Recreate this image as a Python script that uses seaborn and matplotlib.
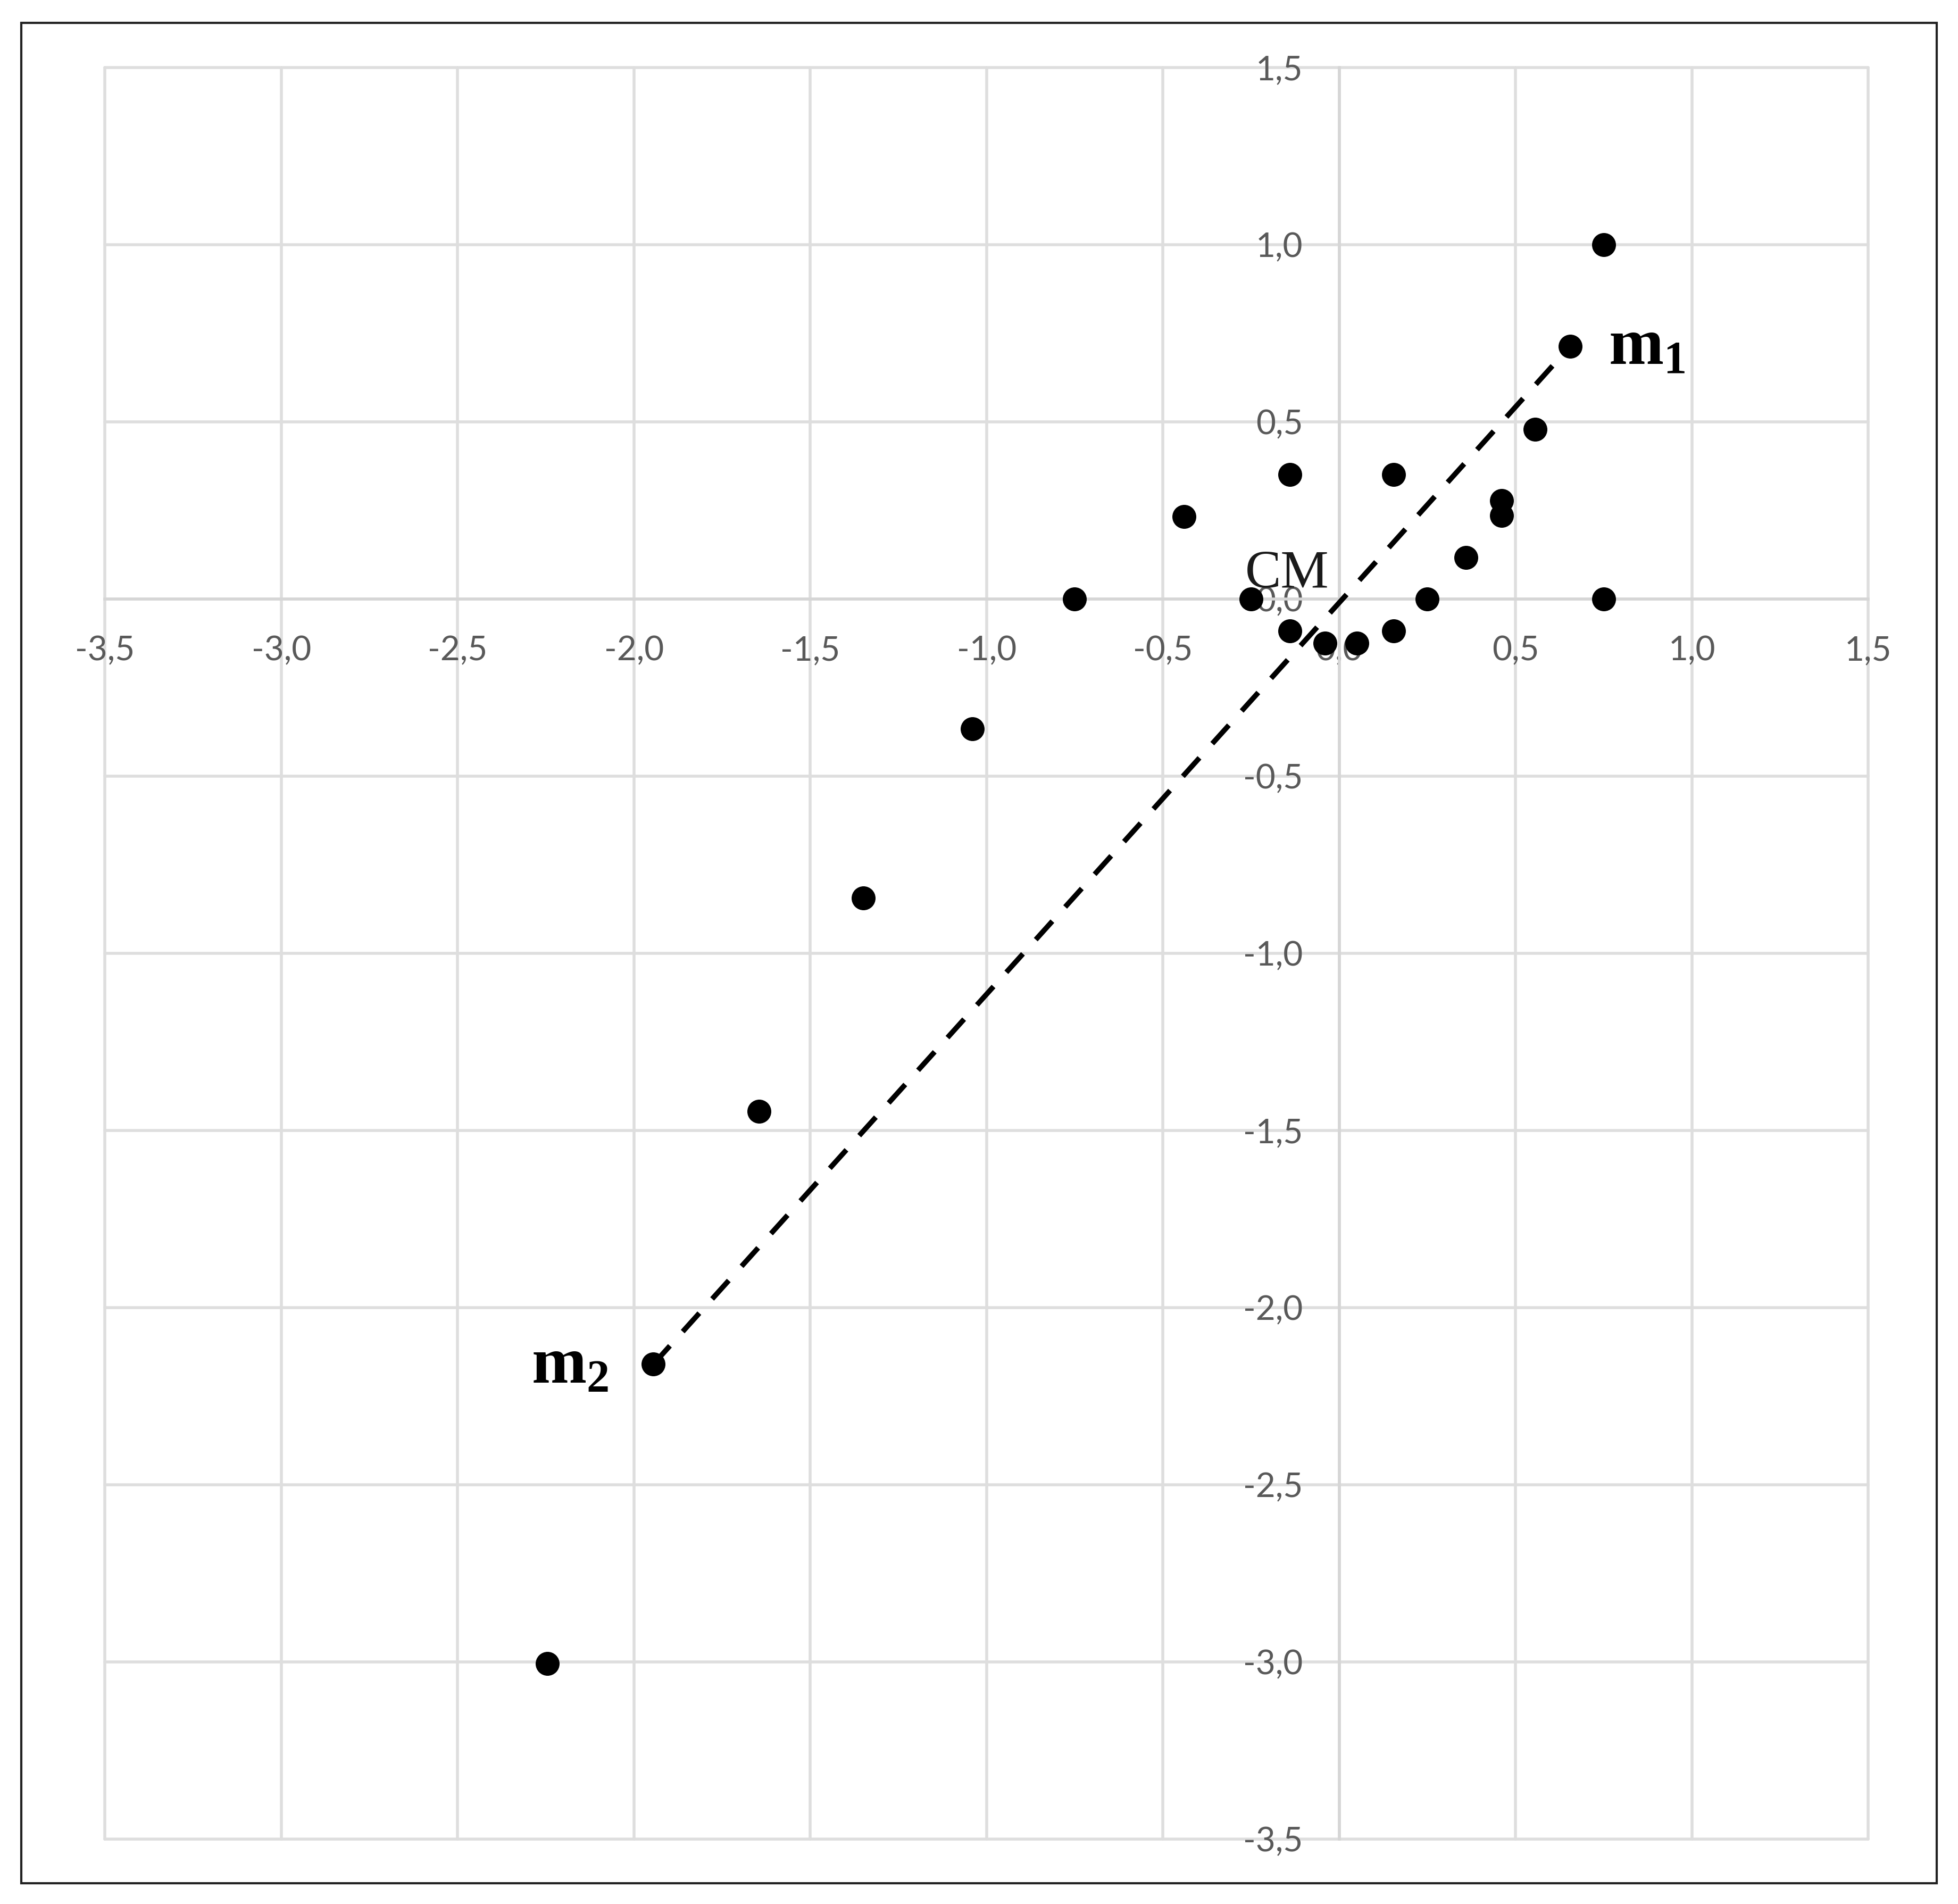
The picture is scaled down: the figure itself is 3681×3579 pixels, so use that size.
import matplotlib
matplotlib.use("Agg")
import matplotlib.pyplot as plt
import seaborn as sns
from matplotlib.patches import Rectangle

# scatter points
x_vals = [0.75, 0.655, 0.555, -0.14, 0.155, -0.44, 0.46, 0.46, 0.36,
          -0.75, -0.25, 0.25, 0.75, -0.14, -0.04, 0.05, 0.155,
          -1.04, -1.35, -1.645, -1.945, -2.245]
y_vals = [1.0, 0.713, 0.478, 0.351, 0.351, 0.233, 0.278, 0.235, 0.117,
          0.0, 0.0, 0.0, 0.0, -0.09, -0.125, -0.125, -0.09,
          -0.366, -0.844, -1.446, -2.16, -3.005]

# dashed segment m2 -> m1
line_x = [-1.945, 0.655]
line_y = [-2.16, 0.713]

point_labels = ["$\\mathbf{m_1}$", "$\\mathbf{m_2}$"]
center_label = "CM"

tick_values = [-3.5, -3.0, -2.5, -2.0, -1.5, -1.0, -0.5, 0.0, 0.5, 1.0, 1.5]
tick_labels = [f"{v:.1f}".replace(".", ",") for v in tick_values]

sns.set_theme(style="whitegrid")
plt.rcParams["font.family"] = ["Lato", "DejaVu Sans"]
plt.rcParams["mathtext.fontset"] = "custom"
plt.rcParams["mathtext.rm"] = "Liberation Serif"
plt.rcParams["mathtext.bf"] = "Liberation Serif:bold"

fig, ax = plt.subplots(figsize=(36.81, 35.79), dpi=100)
fig.subplots_adjust(left=0.0536, right=0.9541, top=0.9646, bottom=0.0341)
ax.set_facecolor("white")

sns.lineplot(x=line_x, y=line_y, sort=False, color="black", linewidth=7,
             linestyle=(0, (4.8, 3.7)), ax=ax, zorder=3)
sns.scatterplot(x=x_vals, y=y_vals, s=1050, color="black", linewidth=0,
                ax=ax, zorder=4)

ax.set_xlim(-3.5, 1.5)
ax.set_ylim(-3.5, 1.5)
ax.set_xticks(tick_values)
ax.set_yticks(tick_values)
ax.set_xticklabels(tick_labels)
ax.set_yticklabels(tick_labels)

# axes cross at the origin, like the spreadsheet chart
for side in ["top", "right"]:
    ax.spines[side].set_visible(False)
for side in ["left", "bottom"]:
    ax.spines[side].set_position(("data", 0))
    ax.spines[side].set_color("#d6d6d6")
    ax.spines[side].set_linewidth(4)
    ax.spines[side].set_zorder(1.5)

ax.tick_params(axis="both", length=0, pad=49, labelsize=46, labelcolor="#595959")
ax.grid(True, color="#dedede", linewidth=4)
for gl in ax.xaxis.get_gridlines() + ax.yaxis.get_gridlines():
    gl.set_clip_on(False)

# point labels
ax.annotate(point_labels[0], xy=(line_x[1], line_y[1]), xytext=(52, 0),
            textcoords="offset points", ha="left", va="center",
            fontsize=89, color="black")
ax.annotate(point_labels[1], xy=(line_x[0], line_y[0]), xytext=(-60, 0),
            textcoords="offset points", ha="right", va="center",
            fontsize=89, color="black")
ax.annotate(center_label, xy=(0, 0), xytext=(-14, 15),
            textcoords="offset points", ha="right", va="baseline",
            fontsize=73, family="Liberation Serif", color="#1a1a1a", zorder=5)

# outer frame
fig.patches.append(Rectangle((0.0109, 0.0109), 0.989 - 0.0109, 0.988 - 0.0109,
                             transform=fig.transFigure, fill=False,
                             edgecolor="#222222", linewidth=3))

plt.savefig("out.png", dpi=100, facecolor="white")
plt.close()
print("Saved: out.png")
